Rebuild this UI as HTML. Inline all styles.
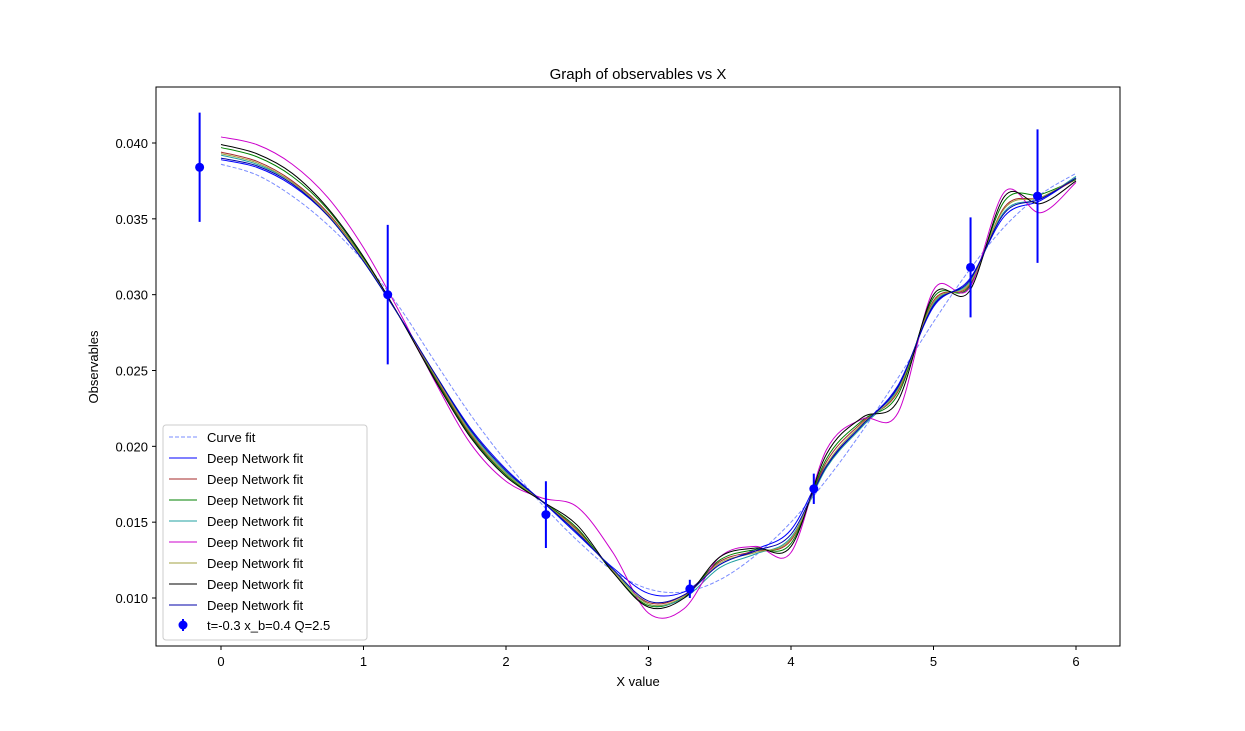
<!DOCTYPE html>
<html><head><meta charset="utf-8"><style>
body{margin:0;background:#fff}
svg text{font-family:"Liberation Sans","DejaVu Sans",sans-serif;font-size:13px;fill:#000}
</style></head><body>
<svg id="chart" width="1245" height="726" xmlns="http://www.w3.org/2000/svg">
<rect width="1245" height="726" fill="#fff"/>
<text x="638" y="79" text-anchor="middle" style="font-size:15px">Graph of observables vs X</text>
<g id="grid"></g>
<g id="series"></g>
<rect x="156" y="87" width="964" height="559" fill="none" stroke="#000" stroke-width="1"/>
<text x="638" y="686" text-anchor="middle">X value</text>
<text transform="translate(98,367) rotate(-90)" text-anchor="middle">Observables</text>
<g id="legend"></g>
</svg>
<script>
const xTicks=[0,1,2,3,4,5,6];
const yTicks=[0.010,0.015,0.020,0.025,0.030,0.035,0.040];
const gridX=[0,0.25,0.5,0.75,1,1.25,1.5,1.75,2,2.25,2.5,2.75,3,3.25,3.5,3.75,4,4.25,4.5,4.75,5,5.25,5.5,5.75,6];
const curveFit=[0.0386,0.0379,0.0365,0.0346,0.0322,0.0292,0.0256,0.0221,0.0190,0.0162,0.0138,0.0118,0.0106,0.0104,0.0112,0.0128,0.0150,0.0178,0.0210,0.0245,0.0282,0.0316,0.0345,0.0366,0.0380];
const fitBlue=[0.0389,0.0384,0.0372,0.0352,0.0322,0.0286,0.0248,0.0212,0.0185,0.0164,0.0142,0.0120,0.0103,0.0104,0.0122,0.0132,0.0145,0.0188,0.0214,0.0240,0.0292,0.0310,0.0352,0.0362,0.0377];
const fitBrown=[0.0394,0.0388,0.0375,0.0354,0.0323,0.0286,0.0246,0.0208,0.0182,0.0164,0.0145,0.0118,0.0097,0.0102,0.0124,0.0131,0.0138,0.0190,0.0216,0.0236,0.0296,0.0306,0.0358,0.0364,0.0376];
const fitGreen=[0.0397,0.0391,0.0378,0.0356,0.0324,0.0286,0.0245,0.0207,0.0181,0.0164,0.0146,0.0117,0.0095,0.0101,0.0125,0.0132,0.0136,0.0192,0.0217,0.0234,0.0298,0.0305,0.0362,0.0366,0.0376];
const fitCyan=[0.0392,0.0386,0.0374,0.0353,0.0322,0.0286,0.0247,0.0210,0.0183,0.0164,0.0143,0.0119,0.0096,0.0100,0.0120,0.0129,0.0140,0.0186,0.0213,0.0238,0.0294,0.0308,0.0355,0.0363,0.0378];
const fitMagenta=[0.0404,0.0399,0.0386,0.0364,0.0331,0.0289,0.0243,0.0202,0.0177,0.0166,0.0160,0.0130,0.0090,0.0093,0.0127,0.0134,0.0130,0.0198,0.0218,0.0222,0.0303,0.0304,0.0368,0.0354,0.0374];
const fitOlive=[0.0393,0.0387,0.0374,0.0353,0.0323,0.0286,0.0247,0.0209,0.0182,0.0164,0.0144,0.0118,0.0096,0.0101,0.0123,0.0130,0.0139,0.0188,0.0215,0.0237,0.0295,0.0307,0.0357,0.0364,0.0377];
const fitBlack=[0.0399,0.0393,0.0380,0.0357,0.0325,0.0286,0.0244,0.0206,0.0180,0.0164,0.0148,0.0117,0.0094,0.0100,0.0127,0.0133,0.0134,0.0195,0.0219,0.0230,0.0300,0.0302,0.0365,0.0360,0.0375];
const fitNavy=[0.0390,0.0385,0.0373,0.0352,0.0322,0.0286,0.0248,0.0211,0.0184,0.0164,0.0143,0.0119,0.0098,0.0102,0.0122,0.0131,0.0142,0.0187,0.0214,0.0239,0.0293,0.0309,0.0354,0.0363,0.0377];
const obsX=[-0.15,1.17,2.28,3.29,4.16,5.26,5.73];
const obsY=[0.0384,0.0300,0.0155,0.0106,0.0172,0.0318,0.0365];
const obsErr=[0.0036,0.0046,0.0022,0.0006,0.0010,0.0033,0.0044];
const seriesNames=["fit-blue","fit-brown","fit-green","fit-cyan","fit-magenta","fit-olive","fit-black","fit-navy"];
const seriesData=[fitBlue,fitBrown,fitGreen,fitCyan,fitMagenta,fitOlive,fitBlack,fitNavy];
const seriesColors=["#0000ff","#a52a2a","#008000","#20a0a0","#cc00cc","#a0a040","#000000","#0000aa"];

const NS="http://www.w3.org/2000/svg";
const X=v=>221+(1076-221)*v/6;
const Y=v=>143+(598-143)*(0.040-v)/0.030;
function mk(t,a,p){const e=document.createElementNS(NS,t);for(const k in a)e.setAttribute(k,a[k]);p.appendChild(e);return e;}
const grid=document.getElementById('grid');
xTicks.forEach(t=>{
 const l=mk('line',{x1:X(t),x2:X(t),y1:646,y2:650,stroke:'#000'},grid);
 
 
 const s=mk('text',{x:X(t),y:666,'text-anchor':'middle'},grid);s.textContent=t;
 
 
});
yTicks.forEach(t=>{
 const l=mk('line',{x1:152,x2:156,y1:Y(t),y2:Y(t),stroke:'#000'},grid);
 
 
 const s=mk('text',{x:148,y:Y(t)+5,'text-anchor':'end'},grid);s.textContent=t.toFixed(3);
 
 
});
function smooth(xs,ys){
 const P=xs.map((x,i)=>[X(x),Y(ys[i])]);let d='M'+P[0][0]+','+P[0][1];
 for(let i=0;i<P.length-1;i++){const p0=P[Math.max(0,i-1)],p1=P[i],p2=P[i+1],p3=P[Math.min(P.length-1,i+2)];
  const c1=[p1[0]+(p2[0]-p0[0])/6,p1[1]+(p2[1]-p0[1])/6],c2=[p2[0]-(p3[0]-p1[0])/6,p2[1]-(p3[1]-p1[1])/6];
  d+=' C'+c1.join(',')+' '+c2.join(',')+' '+p2.join(',');}
 return d;}
const sg=document.getElementById('series');
const cf=mk('path',{d:smooth(gridX,curveFit),fill:'none',stroke:'#7a8cff','stroke-width':1,'stroke-dasharray':'4,2'},sg);


seriesData.forEach((ys,i)=>{
 const p=mk('path',{d:smooth(gridX,ys),fill:'none',stroke:seriesColors[i],'stroke-width':1},sg);
 
 
});
obsX.forEach((x,i)=>{
 const l=mk('line',{x1:X(x),x2:X(x),y1:Y(obsY[i]-obsErr[i]),y2:Y(obsY[i]+obsErr[i]),stroke:'#0000ff','stroke-width':2},sg);
 
 
 const c=mk('circle',{cx:X(x),cy:Y(obsY[i]),r:4.5,fill:'#0000ff'},sg);
 
 
});
const lg=document.getElementById('legend');
const box=mk('rect',{x:163,y:425,width:204,height:215,rx:3,fill:'#fff','fill-opacity':0.8,stroke:'#ccc'},lg);


const labels=["Curve fit"].concat(seriesData.map(()=>"Deep Network fit"));
const lcolors=["#7a8cff"].concat(seriesColors);
labels.forEach((lab,i)=>{
 const y=437+i*21;
 const l=mk('line',{x1:169,x2:197,y1:y,y2:y,stroke:lcolors[i],'stroke-width':1},lg);
 if(i===0)l.setAttribute('stroke-dasharray','4,2');
 
 
 const t=mk('text',{x:207,y:y+5},lg);t.textContent=lab;
 
 
});
const ey=437+9*21-1;
const el=mk('line',{x1:183,x2:183,y1:ey-6,y2:ey+6,stroke:'#0000ff','stroke-width':2},lg);


const ec=mk('circle',{cx:183,cy:ey,r:4.5,fill:'#0000ff'},lg);


const et=mk('text',{x:207,y:ey+5},lg);et.textContent="t=-0.3 x_b=0.4 Q=2.5";


</script>
</body></html>
